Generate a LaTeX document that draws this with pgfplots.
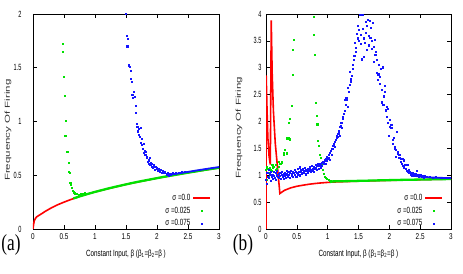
\documentclass[border=0pt]{standalone}
\usepackage{fontspec}
\setmainfont{Liberation Sans}
\usepackage{graphicx}
\usepackage{pgfplots}
\pgfplotsset{compat=1.18}
\newfontfamily\tickfont[FakeStretch=0.62]{Liberation Sans}
\newfontfamily\xtickfont[FakeStretch=0.75]{Liberation Sans}
\newfontfamily\labfont[FakeStretch=0.7]{Liberation Sans}
\newfontfamily\panelfont[FakeStretch=0.75]{Liberation Serif}
\definecolor{gpred}{RGB}{255,0,0}
\definecolor{gpgreen}{RGB}{0,225,0}
\definecolor{gpblue}{RGB}{20,20,255}
\pgfplotsset{gpstyle/.style={
  scale only axis, height=215pt, xmin=0, xmax=3, ymin=0,
  xtick={0,0.5,...,3},
  tick align=inside, xtick pos=both, ytick pos=both, major tick length=4pt,
  axis line style={line width=0.8pt}, every tick/.style={line width=0.6pt, black},
  /pgf/number format/assume math mode=true,
  xticklabel style={font=\fontsize{8.5}{9}\xtickfont, yshift=-1pt},
  yticklabel style={font=\fontsize{9}{10}\tickfont},
  xlabel={Constant Input, β (β\textsubscript{1}=β\textsubscript{2}=β )},
  xlabel style={font=\fontsize{9}{10}\labfont, at={(axis description cs:0.5,-0.116)}, anchor=center},
  ylabel={\scalebox{1}[0.62]{\fontsize{11.5}{12}\selectfont Frequency Of Firing}},
  legend style={draw=none, fill=none, at={(0.975,-0.012)}, anchor=south east,
    font=\fontsize{9}{10}\labfont, row sep=1pt},
  legend cell align=right, legend plot pos=right,
  dotsA/.style={only marks, mark=square*, mark size=0.55pt, draw=none},
}}
\begin{document}
\begin{tikzpicture}
\path[use as bounding box] (0,0) rectangle (463pt,273pt);
% ---------------- (a) ----------------
\begin{axis}[gpstyle, at={(33pt,44pt)}, anchor=south west, width=186pt,
  ymax=2, ytick={0,0.5,...,2},
  yticklabel style={xshift=-8pt},
  ylabel style={at={(axis description cs:-0.134,0.46)}, anchor=center, color=black!80}]
\addplot[gpred, line width=1.6pt] coordinates {
(0,0) (0.01,0.045) (0.02,0.075) (0.04,0.1) (0.06,0.113) (0.1,0.128) (0.15,0.146)
(0.2,0.165) (0.3,0.198) (0.4,0.226) (0.5,0.25) (0.6,0.272) (0.7,0.293) (0.8,0.312)
(1.0,0.345) (1.5,0.415) (2.0,0.473) (2.5,0.524) (3.0,0.569)};
\addlegendentry{σ =0.0}
\addplot[gpgreen, line width=2.3pt, forget plot] coordinates {
(0.65,0.284) (0.7,0.293) (0.75,0.303) (0.8,0.312) (0.85,0.320) (0.9,0.329) (0.95,0.337)
(1.0,0.345) (1.1,0.360) (1.2,0.375) (1.3,0.389) (1.4,0.402) (1.5,0.415) (1.6,0.428)
(1.7,0.440) (1.8,0.451) (1.9,0.462) (2.0,0.473) (2.1,0.484) (2.2,0.494) (2.3,0.504)
(2.4,0.514) (2.5,0.524) (2.6,0.533) (2.7,0.543) (2.8,0.552) (2.9,0.561) (3.0,0.569)};
\addplot[dotsA, gpgreen, mark options={fill=gpgreen}] coordinates {
(0.475,1.72) (0.485,1.65) (0.495,1.42) (0.505,1.24) (0.525,1.01) (0.52,0.87)
(0.545,0.72) (0.56,0.72) (0.575,0.615) (0.57,0.535) (0.585,0.525) (0.6,0.43)
(0.61,0.41) (0.62,0.385) (0.635,0.36) (0.65,0.35) (0.665,0.335) (0.68,0.33)
(0.7,0.325) (0.73,0.32) (0.77,0.325) (0.8,0.33) (0.84,0.335)};
\addlegendentry{σ =0.025}
\addplot[gpblue, line width=1.8pt, forget plot] coordinates {
(2.2,0.505) (2.3,0.512) (2.4,0.522) (2.5,0.531) (2.6,0.541) (2.7,0.55) (2.8,0.559)
(2.9,0.568) (3.0,0.576)};
\addplot[dotsA, gpblue, mark options={fill=gpblue}] coordinates {
(1.49,2.00) (1.505,1.80) (1.52,1.70) (1.53,1.77) (1.54,1.53) (1.55,1.52) (1.56,1.51)
(1.575,1.47) (1.58,1.40) (1.595,1.37) (1.60,1.25) (1.615,1.22) (1.63,1.28) (1.64,1.23)
(1.65,1.15) (1.66,1.08) (1.67,0.98) (1.68,0.95) (1.69,0.91) (1.70,0.88) (1.71,0.93)
(1.72,0.86) (1.73,0.94) (1.74,0.80) (1.75,0.84) (1.76,0.78) (1.77,0.75) (1.78,0.79)
(1.79,0.71) (1.80,0.73) (1.81,0.69) (1.82,0.72) (1.83,0.66) (1.84,0.67) (1.85,0.63)
(1.86,0.64) (1.87,0.61) (1.88,0.66) (1.89,0.60) (1.90,0.62) (1.91,0.58) (1.92,0.61)
(1.93,0.57) (1.94,0.58) (1.95,0.60) (1.96,0.55) (1.97,0.55) (1.98,0.58) (1.99,0.56)
(2.00,0.57) (2.02,0.54) (2.03,0.56) (2.04,0.54) (2.05,0.53) (2.06,0.55) (2.08,0.52)
(2.09,0.54) (2.10,0.52) (2.12,0.53) (2.13,0.52) (2.15,0.51) (2.17,0.52) (2.19,0.50)
(2.20,0.51) (2.22,0.51) (2.24,0.515) (2.26,0.52) (2.30,0.525) (2.35,0.522) (2.40,0.53) (2.45,0.535)};
\addlegendentry{σ =0.075}
\end{axis}
% ---------------- (b) ----------------
\begin{axis}[gpstyle, at={(266pt,44pt)}, anchor=south west, width=185pt,
  ymax=4, ytick={0,0.5,...,4},
  yticklabel style={xshift=-1pt},
  ylabel style={at={(axis description cs:-0.146,0.47)}, anchor=center, color=black!80}]
\addplot[gpred, line width=1.6pt] coordinates {
(0,0) (0.003,2.86) (0.015,2.3) (0.03,1.7) (0.05,1.35) (0.07,1.2) (0.085,3.88)
(0.1,2.9) (0.12,2.2) (0.15,1.6) (0.19,1.1) (0.225,0.66) (0.3,0.72) (0.4,0.765)
(0.5,0.795) (0.6,0.815) (0.7,0.833) (0.8,0.847) (0.9,0.858) (1.0,0.867) (1.1,0.874)
(1.5,0.89) (2.0,0.905) (2.5,0.917) (3.0,0.93)};
\addlegendentry{σ =0.0}
\addplot[gpgreen, line width=2.3pt, forget plot] coordinates {
(1.05,0.885) (1.2,0.888) (1.4,0.893) (1.6,0.898) (1.8,0.904) (2.0,0.909) (2.2,0.914)
(2.4,0.918) (2.6,0.922) (2.8,0.926) (3.0,0.930)};
\addplot[dotsA, gpgreen, mark options={fill=gpgreen}] coordinates {
(0.00,1.10) (0.01,1.15) (0.015,0.92) (0.02,1.05) (0.03,1.13) (0.04,0.98) (0.05,1.04)
(0.06,1.14) (0.075,1.10) (0.09,1.08) (0.10,1.20) (0.11,1.15) (0.13,1.16) (0.15,1.19)
(0.16,1.10) (0.18,1.13) (0.20,1.25) (0.21,1.16) (0.23,1.22) (0.25,1.26) (0.26,1.23)
(0.28,1.42) (0.29,1.38) (0.31,1.47) (0.33,1.41) (0.34,1.69) (0.36,1.69) (0.37,1.97)
(0.38,1.67) (0.39,2.06) (0.41,2.29) (0.43,2.87) (0.44,3.34) (0.45,3.53)
(0.77,3.62) (0.78,3.95) (0.79,3.24) (0.80,2.35) (0.82,2.10) (0.83,1.95) (0.84,1.64)
(0.85,1.55) (0.87,1.38) (0.88,1.32) (0.90,1.20) (0.92,1.10) (0.94,1.03) (0.95,0.98)
(0.97,0.95) (0.99,0.93) (1.01,0.91) (1.03,0.90) (1.05,0.89)};
\addlegendentry{σ =0.025}
\addplot[gpblue, line width=1.8pt, forget plot] coordinates {
(2.4,0.99) (2.5,0.975) (2.6,0.965) (2.7,0.958) (2.8,0.952) (2.9,0.95) (3.0,0.948)};
\addplot[dotsA, gpblue, mark options={fill=gpblue}] coordinates {
(0.00,0.92) (0.01,0.85) (0.02,1.05) (0.03,0.97) (0.04,1.10) (0.05,0.95) (0.06,1.02)
(0.07,0.90) (0.08,1.06) (0.09,0.98) (0.10,1.01) (0.11,0.93) (0.12,1.07) (0.13,0.99)
(0.14,0.96) (0.15,1.04) (0.16,0.91) (0.17,1.00) (0.18,1.08) (0.19,0.97) (0.20,1.03)
(0.21,0.95) (0.22,0.99) (0.23,1.05) (0.24,0.93) (0.25,1.01) (0.26,1.06) (0.27,0.97)
(0.28,1.02) (0.29,0.94) (0.30,1.05) (0.31,1.00) (0.32,0.96) (0.33,1.08) (0.34,1.02)
(0.35,0.98) (0.36,1.06) (0.37,1.01) (0.38,0.95) (0.39,1.04) (0.40,1.09) (0.41,0.99)
(0.42,1.03) (0.43,1.07) (0.44,0.97) (0.45,1.05) (0.46,1.10) (0.47,1.01) (0.48,1.06)
(0.49,0.98) (0.50,1.04) (0.51,1.12) (0.52,1.02) (0.53,1.07) (0.54,1.15) (0.55,1.00)
(0.56,1.06) (0.57,1.10) (0.58,1.03) (0.59,1.05) (0.60,1.12) (0.61,1.04) (0.62,1.08)
(0.63,1.14) (0.64,1.11) (0.65,1.02) (0.66,1.09) (0.67,1.13) (0.68,1.05) (0.69,1.10)
(0.70,1.08) (0.71,1.15) (0.72,1.06) (0.73,1.11) (0.74,1.17) (0.75,1.09) (0.76,1.13)
(0.77,1.07) (0.78,1.16) (0.79,1.12) (0.80,1.19) (0.81,1.14) (0.82,1.10) (0.83,1.18)
(0.84,1.21) (0.85,1.13) (0.86,1.17) (0.87,1.22) (0.88,1.15) (0.89,1.20) (0.90,1.24)
(0.91,1.18) (0.92,1.26) (0.93,1.21) (0.94,1.23) (0.95,1.28) (0.96,1.22) (0.97,1.31)
(0.98,1.27) (0.99,1.35) (1.00,1.30) (1.01,1.38) (1.02,1.33) (1.03,1.29) (1.04,1.42)
(1.05,1.45) (1.06,1.38) (1.07,1.50) (1.08,1.49) (1.09,1.55) (1.10,1.58) (1.11,1.53)
(1.12,1.62) (1.13,1.66) (1.14,1.70) (1.15,1.74) (1.16,1.72) (1.17,1.78) (1.18,1.82)
(1.19,1.73) (1.20,1.90) (1.21,1.93) (1.22,1.98) (1.23,1.88) (1.24,2.05) (1.25,2.09)
(1.26,2.15) (1.27,2.20) (1.28,2.40) (1.29,2.32) (1.30,2.45) (1.31,2.40) (1.32,2.28)
(1.33,2.63) (1.34,2.55) (1.35,2.68) (1.36,2.93) (1.37,2.80) (1.38,2.75) (1.39,2.86)
(1.40,3.05) (1.41,2.99) (1.42,3.15) (1.43,3.22) (1.44,3.47) (1.45,3.37) (1.46,3.30)
(1.47,3.63) (1.48,3.55) (1.49,3.78) (1.50,3.50) (1.51,3.70) (1.52,3.99) (1.53,3.62)
(1.54,3.45) (1.55,3.16) (1.56,3.99) (1.57,3.72) (1.58,3.20) (1.59,3.55) (1.60,3.47)
(1.61,3.85) (1.62,3.66) (1.63,3.33) (1.64,3.78) (1.65,3.90) (1.66,3.60) (1.67,3.42)
(1.68,3.88) (1.69,3.56) (1.70,3.75) (1.71,3.50) (1.72,3.35) (1.73,3.84) (1.74,3.12)
(1.75,3.40) (1.76,3.53) (1.77,3.25) (1.78,3.30) (1.79,2.91) (1.80,3.15) (1.81,2.78)
(1.82,2.88) (1.83,3.05) (1.84,2.83) (1.85,2.70) (1.86,2.99) (1.87,2.60) (1.88,2.36)
(1.89,3.01) (1.90,2.31) (1.91,2.47) (1.92,2.56) (1.93,2.66) (1.94,2.21) (1.95,2.27)
(1.96,2.09) (1.97,2.24) (1.98,1.98) (1.99,1.73) (2.00,2.04) (2.01,1.91) (2.02,1.88)
(2.03,1.94) (2.04,1.88) (2.05,1.59) (2.06,1.66) (2.07,1.70) (2.08,1.50) (2.09,1.53)
(2.10,1.35) (2.11,1.48) (2.12,1.81) (2.13,1.44) (2.14,1.40) (2.15,1.32) (2.16,1.38)
(2.17,1.33) (2.18,1.25) (2.19,1.30) (2.20,1.22) (2.21,1.31) (2.22,1.18) (2.23,1.28)
(2.24,1.15) (2.25,1.20) (2.26,1.12) (2.27,1.19) (2.28,1.08) (2.29,1.19) (2.30,1.06)
(2.31,1.10) (2.32,1.04) (2.33,1.07) (2.34,1.02) (2.35,1.05) (2.36,1.00) (2.37,1.05)
(2.38,1.01) (2.39,0.99) (2.40,1.03) (2.42,1.03) (2.44,0.99) (2.45,1.08) (2.46,1.00)
(2.48,0.98) (2.50,1.01) (2.52,0.97) (2.54,0.99) (2.56,0.96) (2.58,0.99) (2.60,0.97)
(2.65,0.97) (2.70,0.96) (2.75,0.965) (2.85,0.96) (2.95,0.955)};
\addlegendentry{σ =0.075}
\end{axis}
\node[font=\fontsize{23}{24}\panelfont] at (11pt,28pt) {(a)};
\node[font=\fontsize{23}{24}\panelfont] at (243pt,28pt) {(b)};
\end{tikzpicture}
\end{document}
